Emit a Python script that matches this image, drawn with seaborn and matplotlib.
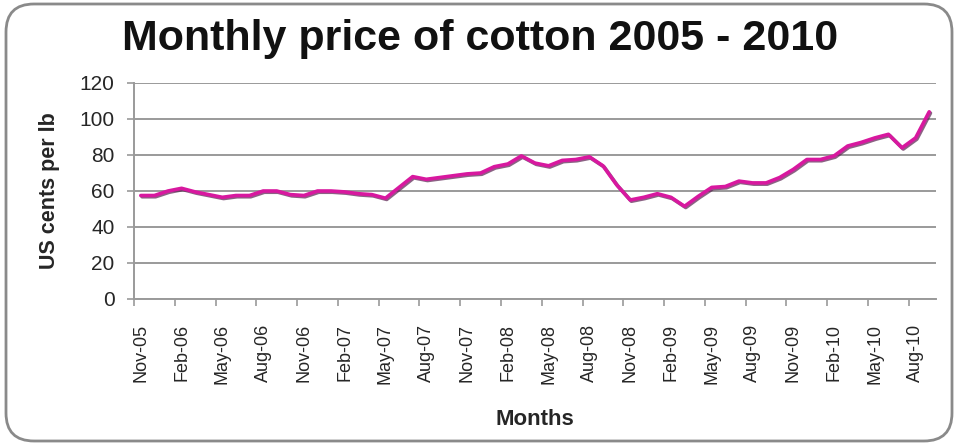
import numpy as np
import pandas as pd
import matplotlib
matplotlib.use("Agg")
import matplotlib.pyplot as plt
import matplotlib.patheffects as pe
from matplotlib.patches import FancyBboxPatch
import seaborn as sns

# ── Data ─────────────────────────────────────────────────────────────────────
months = pd.date_range("2005-11-01", periods=59, freq="MS")
month_labels = [d.strftime("%b-%y") for d in months]

price = [
    57.5, 57.5, 60.0, 61.5, 59.5, 58.0, 56.5, 57.5, 57.5, 60.0,
    60.0, 58.0, 57.5, 60.0, 60.0, 59.5, 58.5, 58.0, 56.0, 62.0,
    68.0, 66.5, 67.5, 68.5, 69.5, 70.0, 73.5, 75.0, 79.5, 75.5,
    74.0, 77.0, 77.5, 79.0, 74.0, 63.5, 55.0, 56.5, 58.5, 56.5,
    51.5, 57.0, 62.0, 62.5, 65.5, 64.5, 64.5, 67.5, 72.0, 77.5,
    77.5, 79.5, 85.0, 87.0, 89.5, 91.5, 84.0, 89.5, 104.0,
]
y_ticks = [0, 20, 40, 60, 80, 100, 120]

COLORS = {
    "line": "#d8189f",
    "shadow": "#5a2050",
    "grid": "#9a9a9a",
    "border": "#8a8a8a",
    "text": "#111111",
}

sns.set_style("white")
plt.rcParams["font.family"] = ["Liberation Sans", "DejaVu Sans"]

fig = plt.figure(figsize=(9.6, 4.46), dpi=100, facecolor="white")
ax = fig.add_axes([134 / 960, 1 - 299 / 446, (936 - 134) / 960, (299 - 83) / 446])

df = pd.DataFrame({"idx": np.arange(len(price)), "price": price})
sns.lineplot(data=df, x="idx", y="price", ax=ax, color=COLORS["line"], linewidth=2.6,
             path_effects=[pe.SimpleLineShadow(offset=(0.9, -0.9), shadow_color=COLORS["shadow"], alpha=0.7),
                           pe.Normal()])

ax.set_xlim(-0.5, len(price) - 0.5)
ax.set_ylim(0, 120)
ax.set_yticks(y_ticks)
ax.grid(axis="y", color=COLORS["grid"], linewidth=1.4)
ax.grid(axis="x", visible=False)
ax.set_axisbelow(True)

# tick marks between categories every 3 months, labels at category centres
ax.set_xticks(np.arange(0, len(price), 3) - 0.5)
ax.set_xticklabels([])
ax.set_xticks(np.arange(0, len(price), 3), minor=True)
ax.set_xticklabels(month_labels[::3], minor=True, rotation=90, fontsize=13)
ax.tick_params(axis="x", which="major", length=5, width=1.2, color=COLORS["grid"], direction="out")
ax.tick_params(axis="x", which="minor", length=0, pad=18)
ax.tick_params(axis="y", length=5, width=1.2, color=COLORS["grid"], labelsize=15, pad=9)
ax.xaxis.set_ticks_position("bottom")
ax.yaxis.set_ticks_position("left")

for side in ["top", "right"]:
    ax.spines[side].set_visible(False)
for side in ["left", "bottom"]:
    ax.spines[side].set_color(COLORS["grid"])
    ax.spines[side].set_linewidth(1.4)

ax.set_xlabel("Months", fontsize=16, fontweight="bold", labelpad=18)
ax.set_ylabel("US cents per lb", fontsize=15.5, fontweight="bold", labelpad=14)

fig.text(0.5, 0.912, "Monthly price of cotton 2005 - 2010", ha="center", va="center",
         fontsize=31, fontweight="bold", color=COLORS["text"])

# rounded frame around the whole chart
frame = FancyBboxPatch((0.06, 0.05), 9.46, 4.37, boxstyle="round,pad=0,rounding_size=0.28",
                       transform=fig.dpi_scale_trans, facecolor="none",
                       edgecolor=COLORS["border"], linewidth=2)
fig.patches.append(frame)

plt.savefig("out.png", dpi=100)
plt.close()
